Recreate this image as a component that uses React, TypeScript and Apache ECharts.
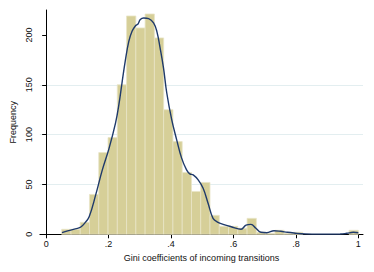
import React, { useEffect, useRef } from "react";
import * as echarts from "echarts";

// Histogram: 32 bins from binStart to binEnd
const binStart = 0.0498;
const binEnd = 1.0;
const counts = [5, 5, 12, 40, 82, 97, 150, 219, 207, 221, 197, 125, 93, 62, 43, 52, 19, 8, 8, 6, 16, 2, 1, 4, 1, 2, 0, 0, 0, 0, 0, 4];

// Kernel density (scaled to frequency)
const kdeX = [0.0508, 0.069, 0.1006, 0.111, 0.123, 0.1378, 0.1587, 0.18, 0.2013, 0.2222, 0.233, 0.2435, 0.254, 0.2648, 0.2752, 0.2857, 0.2943, 0.3016, 0.3124, 0.3283, 0.3441, 0.3546, 0.365, 0.3759, 0.3863, 0.4022, 0.418, 0.434, 0.4498, 0.4603, 0.4711, 0.487, 0.5029, 0.5187, 0.5346, 0.5505, 0.567, 0.5927, 0.6244, 0.6403, 0.6562, 0.672, 0.6879, 0.707, 0.73, 0.7514, 0.7727, 0.7937, 0.83, 0.878, 0.942, 0.963, 0.984, 1.0];
const kdeY = [1.6, 3.5, 6, 7.3, 11, 17.7, 39.5, 64.6, 86, 111.5, 130, 153, 175, 193.5, 203.6, 209, 211, 215.4, 217, 216.4, 212, 203.6, 187, 167, 142, 115, 95, 76.4, 64.6, 60.6, 59.6, 54.6, 46.2, 31.2, 16, 12, 10, 7.6, 5, 9.3, 10, 6, 2, 1.6, 3.6, 3, 2, 1.3, 0.4, 0.2, 0.3, 1, 2, 1.5];

const xTicks = [0, 0.2, 0.4, 0.6, 0.8, 1];
const xTickLabels = ["0", ".2", ".4", ".6", ".8", "1"];
const yTicks = [0, 50, 100, 150, 200];

const xTitle = "Gini coefficients of incoming transitions";
const yTitle = "Frequency";

export default function App() {
  const ref = useRef<HTMLDivElement>(null);
  useEffect(() => {
    if (!ref.current) return;
    const chart = echarts.init(ref.current, null, { renderer: "svg" });
    const w = (binEnd - binStart) / counts.length;
    const barData = counts.map((c, i) => [binStart + i * w, binStart + (i + 1) * w, c]);
    const font = "Liberation Sans, Arial, sans-serif";
    chart.setOption({
      animation: false,
      backgroundColor: "#ffffff",
      grid: { left: 37, top: 10, width: 326, height: 224.3 },
      xAxis: {
        type: "value",
        min: -0.02,
        max: 1.015,
        name: xTitle,
        nameLocation: "middle",
        nameGap: 15.5,
        nameTextStyle: { fontFamily: font, fontSize: 9, color: "#111" },
        axisLine: { show: true, onZero: false, lineStyle: { color: "#000", width: 1 } },
        axisTick: { show: true, length: 4, customValues: xTicks, lineStyle: { color: "#000" } },
        axisLabel: {
          customValues: xTicks,
          formatter: (v: number) => {
            const i = xTicks.indexOf(v);
            return i >= 0 ? xTickLabels[i] : "";
          },
          fontFamily: font,
          fontSize: 9,
          color: "#111",
          margin: 5,
        },
        splitLine: { show: false },
      },
      yAxis: {
        type: "value",
        min: 0,
        max: 225,
        interval: 50,
        name: yTitle,
        nameLocation: "middle",
        nameGap: 17,
        nameRotate: 90,
        nameTextStyle: { fontFamily: font, fontSize: 9, color: "#111" },
        axisLine: { show: true, lineStyle: { color: "#000", width: 1 } },
        axisTick: { show: true, length: 4, customValues: yTicks, lineStyle: { color: "#000" } },
        axisLabel: {
          customValues: yTicks,
          rotate: 90,
          fontFamily: font,
          fontSize: 9,
          color: "#111",
          margin: 6,
        },
        splitLine: { show: true, showMinLine: false, showMaxLine: false, lineStyle: { color: "#e3eef0", width: 1 } },
      },
      series: [
        {
          type: "custom",
          z: 2,
          data: barData,
          encode: { x: [0, 1], y: 2 },
          renderItem: (params: any, api: any) => {
            const x0 = api.value(0);
            const x1 = api.value(1);
            const h = api.value(2);
            if (!h) return null;
            const p0 = api.coord([x0, h]);
            const p1 = api.coord([x1, 0]);
            return {
              type: "rect",
              shape: { x: p0[0], y: p0[1], width: p1[0] - p0[0], height: p1[1] - p0[1] },
              style: { fill: "#d6cf98", stroke: "#e9e5c6", lineWidth: 0.8 },
            };
          },
        },
        {
          type: "line",
          z: 3,
          data: kdeX.map((x, i) => [x, kdeY[i]]),
          showSymbol: false,
          symbol: "none",
          smooth: 0.4,
          lineStyle: { color: "#1f3a6b", width: 1.4 },
        },
      ],
    });
    return () => chart.dispose();
  }, []);
  return <div ref={ref} style={{ width: 374, height: 272, position: "absolute", left: 0, top: 0 }} />;
}
